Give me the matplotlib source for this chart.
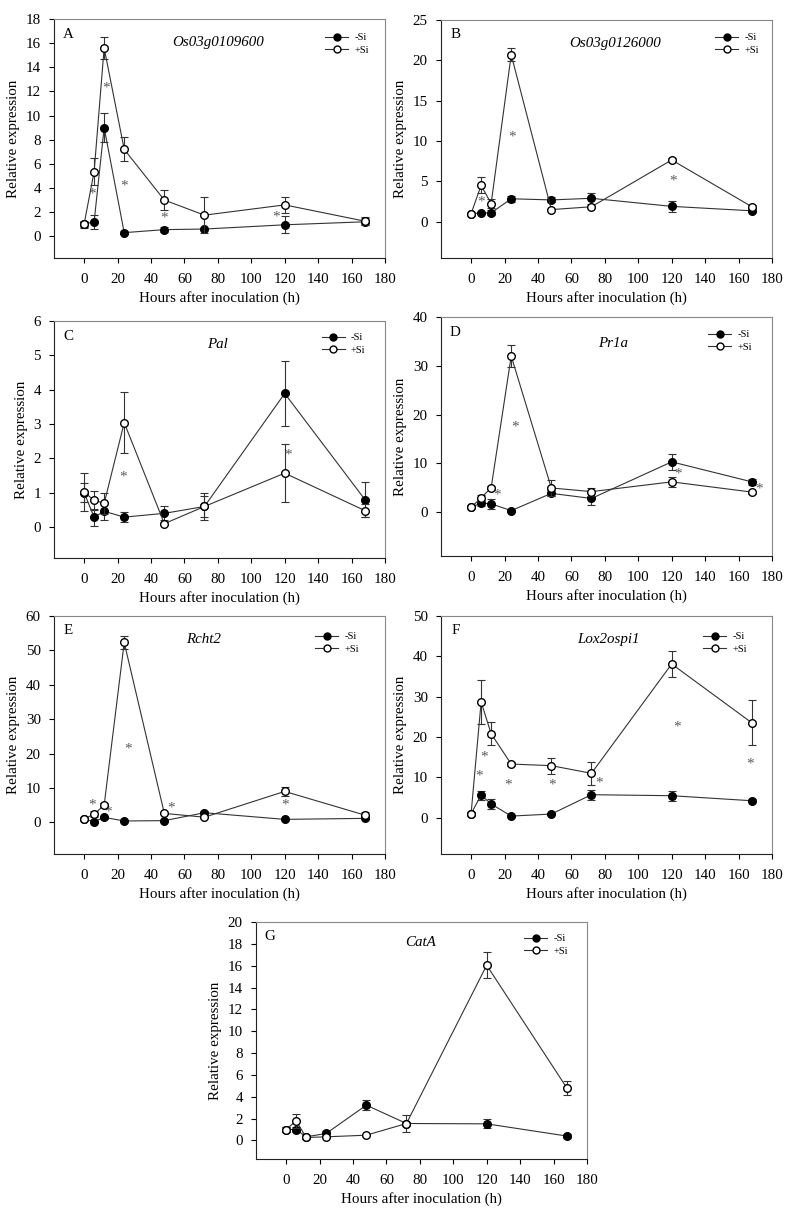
import matplotlib.pyplot as plt
from matplotlib.lines import Line2D

plt.rcParams['font.family'] = ['Liberation Serif', 'DejaVu Serif']

hours = [0, 6, 12, 24, 48, 72, 120, 168]

# A - Os03g0109600
a_minus = [1.0, 1.2, 9.0, 0.3, 0.55, 0.6, 0.95, 1.2]
a_minus_err = [0.2, 0.58, 1.2, 0.1, 0.2, 0.1, 0.7, 0.3]
a_plus = [1.0, 5.35, 15.6, 7.2, 3.0, 1.75, 2.6, 1.25]
a_plus_err = [0.3, 1.1, 0.9, 1.0, 0.8, 1.5, 0.65, 0.35]
a_star_x = [5, 13, 24, 48, 115]
a_star_y = [3.5, 12.3, 4.2, 1.5, 1.6]

# B - Os03g0126000
b_minus = [1.0, 1.07, 1.1, 2.84, 2.7, 2.9, 1.9, 1.35]
b_minus_err = [0.1, 0.1, 0.3, 0.35, 0.3, 0.7, 0.65, 0.2]
b_plus = [1.0, 4.5, 2.25, 20.7, 1.5, 1.85, 7.65, 1.85]
b_plus_err = [0.1, 1.0, 0.6, 0.8, 0.1, 0.15, 0.3, 0.2]
b_star_x = [6, 24.5, 121]
b_star_y = [2.4, 10.5, 5.0]

# C - Pal
c_minus = [1.0, 0.29, 0.46, 0.29, 0.4, 0.6, 3.89, 0.8]
c_minus_err = [0.28, 0.25, 0.24, 0.15, 0.2, 0.38, 0.94, 0.5]
c_plus = [1.02, 0.78, 0.69, 3.04, 0.1, 0.6, 1.57, 0.48]
c_plus_err = [0.55, 0.27, 0.3, 0.88, 0.05, 0.3, 0.84, 0.2]
c_star_x = [23.5, 122]
c_star_y = [1.46, 2.1]

# D - Pr1a
d_minus = [1.0, 1.85, 1.7, 0.3, 3.84, 2.8, 10.3, 6.2]
d_minus_err = [0.2, 0.7, 1.0, 0.2, 0.6, 1.3, 1.6, 0.6]
d_plus = [1.0, 2.9, 5.0, 32.0, 4.95, 4.2, 6.2, 4.1]
d_plus_err = [0.2, 0.7, 0.3, 2.2, 1.6, 0.8, 1.0, 0.3]
d_star_x = [15.5, 26.5, 124, 172]
d_star_y = [3.5, 17.5, 7.8, 4.7]

# E - Rcht2
e_minus = [1.0, 0.2, 1.45, 0.4, 0.5, 2.8, 0.87, 1.16]
e_minus_err = [0.2, 0.3, 0.4, 0.1, 0.1, 0.5, 0.2, 0.3]
e_plus = [1.0, 2.4, 5.0, 52.3, 2.6, 1.5, 9.0, 2.1]
e_plus_err = [0.2, 0.9, 0.6, 2.0, 0.3, 0.3, 1.3, 0.9]
e_star_x = [5, 14.5, 26.3, 51.8, 120]
e_star_y = [5.0, 3.1, 21.2, 4.1, 5.0]

# F - Lox2ospi1
f_minus = [1.0, 5.6, 3.4, 0.4, 0.9, 5.7, 5.45, 4.2]
f_minus_err = [0.2, 1.1, 1.3, 0.2, 0.3, 1.2, 1.2, 0.4]
f_plus = [1.0, 28.7, 20.8, 13.3, 12.9, 11.0, 38.1, 23.5]
f_plus_err = [0.3, 5.5, 2.9, 0.4, 2.0, 2.9, 3.2, 5.6]
f_star_x = [5, 7.8, 22.4, 48.4, 76.6, 123, 167]
f_star_y = [10.3, 15, 8.1, 8.1, 8.5, 22.5, 13.3]

# G - CatA
g_minus = [1.0, 1.0, 0.33, 0.64, 3.23, 1.55, 1.52, 0.4]
g_minus_err = [0.2, 0.2, 0.1, 0.2, 0.46, 0.1, 0.4, 0.15]
g_plus = [1.0, 1.8, 0.27, 0.33, 0.48, 1.55, 16.04, 4.79]
g_plus_err = [0.25, 0.65, 0.1, 0.1, 0.05, 0.77, 1.2, 0.64]
g_star_x = []
g_star_y = []

letters = ['A', 'B', 'C', 'D', 'E', 'F', 'G']
genes = ['Os03g0109600', 'Os03g0126000', 'Pal', 'Pr1a', 'Rcht2', 'Lox2ospi1', 'CatA']
y_tops = [18, 25, 6, 40, 60, 50, 20]
y_steps = [2, 5, 1, 10, 10, 10, 2]
y_bottoms = [-1.8, -4.5, -0.9, -9, -9.2, -9, -1.7]

series = [
    (a_minus, a_minus_err, a_plus, a_plus_err, a_star_x, a_star_y),
    (b_minus, b_minus_err, b_plus, b_plus_err, b_star_x, b_star_y),
    (c_minus, c_minus_err, c_plus, c_plus_err, c_star_x, c_star_y),
    (d_minus, d_minus_err, d_plus, d_plus_err, d_star_x, d_star_y),
    (e_minus, e_minus_err, e_plus, e_plus_err, e_star_x, e_star_y),
    (f_minus, f_minus_err, f_plus, f_plus_err, f_star_x, f_star_y),
    (g_minus, g_minus_err, g_plus, g_plus_err, g_star_x, g_star_y),
]

# layout in pixels: left, top, right, bottom
W, H = 787, 1216
boxes = [(54, 19, 385, 258), (441, 20, 772, 258),
         (54, 321, 385, 558), (441, 317, 772, 556),
         (54, 616, 385, 854), (441, 616, 772, 854),
         (256, 922, 587, 1159)]
title_x = [0.495, 0.526, 0.495, 0.52, 0.453, 0.506, 0.497]
title_y = [0.90, 0.90, 0.90, 0.89, 0.90, 0.90, 0.915]
leg_x = [0.819, 0.828, 0.809, 0.807, 0.789, 0.793, 0.81]
leg_off = [20, 19, 18, 19, 22, 22, 18]

line_col = '#333333'
fig = plt.figure(figsize=(W / 100, H / 100), dpi=100)

for i in range(7):
    l, t, r, b = boxes[i]
    ax = fig.add_axes([l / W, 1 - b / H, (r - l) / W, (b - t) / H])
    mn, mn_err, pl, pl_err, sx, sy = series[i]

    ax.errorbar(hours, mn, yerr=mn_err, fmt='-o', color=line_col, mfc='black', mec='black',
                ms=5.5, lw=0.8, elinewidth=0.8, capsize=3, capthick=0.8, zorder=3)
    ax.errorbar(hours, pl, yerr=pl_err, fmt='-o', color=line_col, mfc='white', mec='black',
                ms=5.5, lw=0.8, elinewidth=0.8, capsize=3, capthick=0.8, zorder=4)
    for x, y in zip(sx, sy):
        ax.text(x, y, '*', ha='center', va='center', color='#5a5a5a', fontsize=11)

    ax.set_xlim(-18, 180)
    ax.set_ylim(y_bottoms[i], y_tops[i])
    ax.set_xticks(range(0, 181, 20))
    ax.set_yticks(range(0, y_tops[i] + 1, y_steps[i]))
    ax.tick_params(direction='out', length=3.5, width=0.8, labelsize=10.8,
                   top=False, right=False, pad=6)
    ax.tick_params(axis='x', pad=7)
    for s in ['left', 'bottom']:
        ax.spines[s].set_color('#222222')
        ax.spines[s].set_linewidth(0.8)
    for s in ['top', 'right']:
        ax.spines[s].set_color('#888888')
        ax.spines[s].set_linewidth(0.8)

    ax.set_xlabel('Hours after inoculation (h)', fontsize=10.8, labelpad=4)
    ax.set_ylabel('Relative expression', fontsize=10.8, labelpad=4)

    ax.text(0.043, 1 - 15 / (b - t), letters[i], transform=ax.transAxes,
            fontsize=10.8, ha='center', va='center')
    ax.text(title_x[i], title_y[i], genes[i], transform=ax.transAxes,
            fontsize=10.8, style='italic', ha='center', va='center')

    handles = [Line2D([], [], color=line_col, lw=0.8, marker='o', mfc='black', mec='black', ms=5),
               Line2D([], [], color=line_col, lw=0.8, marker='o', mfc='white', mec='black', ms=5)]
    ax.legend(handles, ['-Si', '+Si'], loc='upper left', frameon=False, fontsize=7.5,
              bbox_to_anchor=(leg_x[i], 1 - (leg_off[i] - 6) / (b - t)),
              borderpad=0, borderaxespad=0, handlelength=2.2, handletextpad=0.6,
              labelspacing=0.3)

fig.savefig('out.png', dpi=100)
